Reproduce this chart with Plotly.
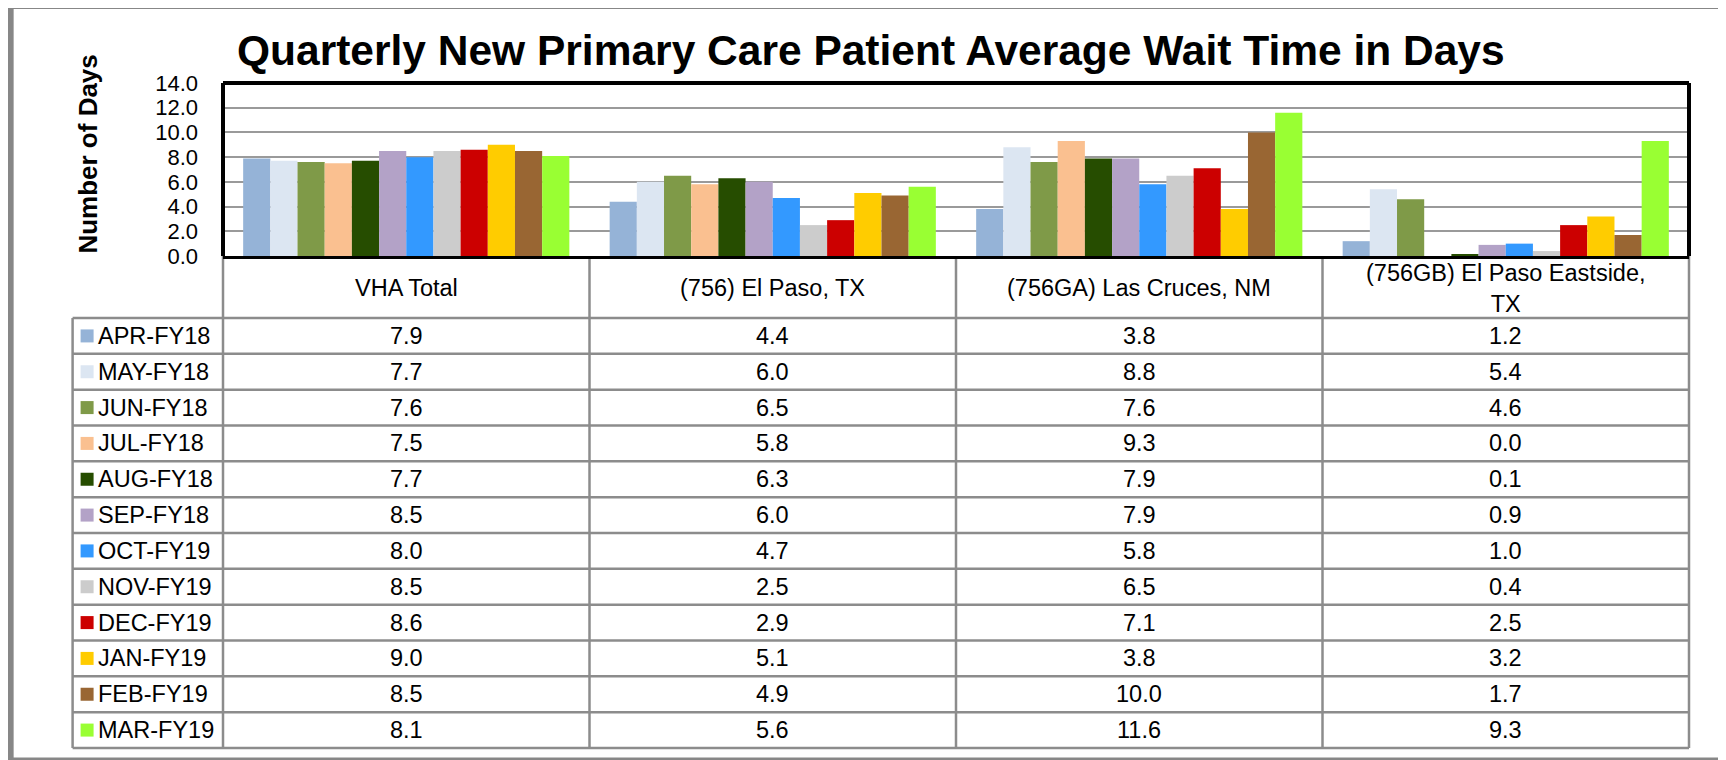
import plotly.graph_objects as go

# ---------------- data ----------------
months = ["APR-FY18", "MAY-FY18", "JUN-FY18", "JUL-FY18", "AUG-FY18", "SEP-FY18",
          "OCT-FY19", "NOV-FY19", "DEC-FY19", "JAN-FY19", "FEB-FY19", "MAR-FY19"]
facilities = ["VHA Total", "(756) El Paso, TX", "(756GA) Las Cruces, NM",
              "(756GB) El Paso Eastside,<br>TX"]
vha_total = [7.9, 7.7, 7.6, 7.5, 7.7, 8.5, 8.0, 8.5, 8.6, 9.0, 8.5, 8.1]
el_paso = [4.4, 6.0, 6.5, 5.8, 6.3, 6.0, 4.7, 2.5, 2.9, 5.1, 4.9, 5.6]
las_cruces = [3.8, 8.8, 7.6, 9.3, 7.9, 7.9, 5.8, 6.5, 7.1, 3.8, 10.0, 11.6]
eastside = [1.2, 5.4, 4.6, 0.0, 0.1, 0.9, 1.0, 0.4, 2.5, 3.2, 1.7, 9.3]
colors = ["#95B3D7", "#DCE6F2", "#7F9A48", "#FAC090", "#264D00", "#B3A2C7",
          "#3399FF", "#CCCCCC", "#CC0000", "#FFCC00", "#996633", "#99FF33"]
y_ticks = [0, 2, 4, 6, 8, 10, 12, 14]
title_text = "Quarterly New Primary Care Patient Average Wait Time in Days"
y_title = "Number of Days"

series = [vha_total, el_paso, las_cruces, eastside]

# ---------------- layout geometry ----------------
# target positions are given in page pixels; the page places the figure 8px in
OFF = 8
PAGE_W, PAGE_H = 1726, 760
W, H = PAGE_W - OFF, PAGE_H - OFF
PL, PR, PT, PB = 222.5, 1689.5, 83, 256          # plot frame (page px)
L, R, T, B = PL - OFF, PR - OFF, PT - OFF, PB - OFF
FONT = "Liberation Sans, Arial, sans-serif"


def xp(px):
    """page x pixel -> paper"""
    return (px - OFF - L) / (R - L)


def yp(py):
    """page y pixel -> paper"""
    return (B - (py - OFF)) / (B - T)


fig = go.Figure()
for i, m in enumerate(months):
    fig.add_trace(go.Bar(
        x=facilities,
        y=[s[i] for s in series],
        name=m,
        marker=dict(color=colors[i], line=dict(width=0)),
        showlegend=False,
    ))

shapes = []
annotations = []

# outer gray frame (left, top, bottom; right side runs off the image)
gray = dict(color="#878787", width=6)
shapes.append(dict(type="line", xref="paper", yref="paper",
                   x0=xp(10), x1=xp(10), y0=yp(0), y1=yp(770), line=gray, layer="below"))
shapes.append(dict(type="line", xref="paper", yref="paper",
                   x0=xp(7), x1=xp(1760), y0=yp(6), y1=yp(6), line=gray, layer="below"))
shapes.append(dict(type="line", xref="paper", yref="paper",
                   x0=xp(7), x1=xp(1760), y0=yp(760.5), y1=yp(760.5), line=gray, layer="below"))

# plot frame
frame = dict(color="#000000", width=4)
shapes.append(dict(type="line", xref="paper", yref="paper", x0=0, x1=1, y0=1, y1=1, line=frame))
shapes.append(dict(type="line", xref="paper", yref="paper", x0=0, x1=0, y0=0, y1=1, line=frame))
shapes.append(dict(type="line", xref="paper", yref="paper", x0=1, x1=1, y0=0, y1=1, line=frame))

# data table
tcol = "#8C8C8C"
tw = 2.5
tab_left = 72
head_bot = 318
tab_bot = 748
row_h = (tab_bot - head_bot) / len(months)
col_edges = [PL + (PR - PL) * k / len(facilities) for k in range(len(facilities) + 1)]
for xe in col_edges:
    shapes.append(dict(type="line", xref="paper", yref="paper",
                       x0=xp(xe), x1=xp(xe), y0=yp(PB), y1=yp(tab_bot),
                       line=dict(color=tcol, width=tw), layer="below"))
shapes.append(dict(type="line", xref="paper", yref="paper",
                   x0=xp(tab_left), x1=xp(tab_left), y0=yp(head_bot), y1=yp(tab_bot),
                   line=dict(color=tcol, width=tw)))
for r in range(len(months) + 1):
    yy = head_bot + r * row_h
    shapes.append(dict(type="line", xref="paper", yref="paper",
                       x0=xp(tab_left), x1=xp(PR), y0=yp(yy), y1=yp(yy),
                       line=dict(color=tcol, width=tw)))

TFS = 23.5
# header labels
for f in facilities:
    annotations.append(dict(x=f, xref="x", y=yp((PB + head_bot) / 2 + 1), yref="paper",
                            text=f, showarrow=False, xanchor="center", yanchor="middle",
                            font=dict(family=FONT, size=TFS, color="#000")))

# rows
for i, m in enumerate(months):
    yc = head_bot + row_h * (i + 0.5)
    shapes.append(dict(type="rect", xref="paper", yref="paper",
                       x0=xp(80), x1=xp(93), y0=yp(yc + 6.5), y1=yp(yc - 6.5),
                       fillcolor=colors[i], line=dict(width=0)))
    annotations.append(dict(x=xp(95), xref="paper", y=yp(yc), yref="paper",
                            text=m, showarrow=False, xanchor="left", yanchor="middle",
                            font=dict(family=FONT, size=TFS, color="#000")))
    for f, s in zip(facilities, series):
        annotations.append(dict(x=f, xref="x", y=yp(yc), yref="paper",
                                text=f"{s[i]:.1f}", showarrow=False,
                                xanchor="center", yanchor="middle",
                                font=dict(family=FONT, size=TFS, color="#000")))

# title and y-axis title
annotations.append(dict(x=xp(871), xref="paper", y=yp(50), yref="paper",
                        text=f"<b>{title_text}</b>", showarrow=False,
                        xanchor="center", yanchor="middle",
                        font=dict(family=FONT, size=42.5, color="#000")))
annotations.append(dict(x=xp(87), xref="paper", y=yp(154), yref="paper",
                        text=f"<b>{y_title}</b>", showarrow=False, textangle=-90,
                        xanchor="center", yanchor="middle",
                        font=dict(family=FONT, size=26, color="#000")))

fig.update_layout(
    width=W, height=H,
    margin=dict(l=L, r=W - R, t=T, b=H - B, pad=0),
    paper_bgcolor="white", plot_bgcolor="white",
    barmode="group", bargap=0.11, bargroupgap=0,
    shapes=shapes, annotations=annotations,
    xaxis=dict(type="category", range=[-0.5, len(facilities) - 0.5],
               showticklabels=False, showgrid=False, zeroline=False,
               showline=True, linecolor="#000", linewidth=3, ticks=""),
    yaxis=dict(range=[0, 14], tickvals=y_ticks, tickformat=".1f",
               showgrid=True, gridcolor="#9A9A9A", gridwidth=2,
               zeroline=False, showline=False, ticks="",
               ticklabelstandoff=24,
               tickfont=dict(family=FONT, size=22, color="#000")),
)

fig.write_html("out.html")
